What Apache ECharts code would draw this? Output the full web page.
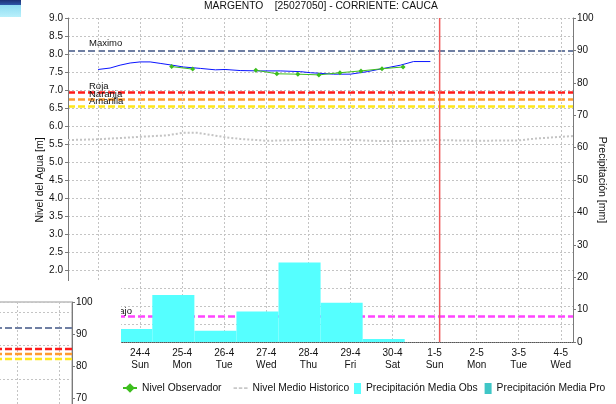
<!DOCTYPE html>
<html>
<head>
<meta charset="utf-8">
<style>
html,body{margin:0;padding:0;background:#fff;}
#c{width:616px;height:404px;}
</style>
<script src="https://cdn.jsdelivr.net/npm/echarts@6.0.0/dist/echarts.min.js"></script>
</head>
<body>
<div id="c"></div>
<script>
// ---- tick labels (x = days since 24-4 00:00) ----
const dayLabels = ['22-4','23-4','24-4','25-4','26-4','27-4','28-4','29-4','30-4','1-5','2-5','3-5','4-5'];
const weekDays  = ['Fri','Sat','Sun','Mon','Tue','Wed','Thu','Fri','Sat','Sun','Mon','Tue','Wed'];
const xMin = -1.714, xMax = 10.29;

// ---- blue level line ----
const blueTimes  = [-1.0,-0.714,-0.476,-0.238,0,0.238,0.476,0.762,1.024,1.43,1.79,2.02,2.38,2.86,3.33,3.81,4.05,4.6,5.0,5.4,5.79,6.19,6.5,6.9];
const blueLevels = [7.57,7.61,7.69,7.75,7.78,7.78,7.74,7.69,7.64,7.60,7.56,7.57,7.54,7.53,7.53,7.51,7.48,7.44,7.44,7.51,7.60,7.69,7.79,7.79];

// ---- Nivel Observador ----
const obsTimes  = [0.75,1.25,1.75,2.25,2.75,3.25,3.75,4.25,4.75,5.25,5.75,6.25];
const obsLevels = [7.65,7.58,null,null,7.55,7.45,7.44,7.42,7.48,7.53,7.59,7.64];

// ---- Nivel Medio Historico ----
const histTimes  = [-1.714,-1.0,0,0.64,1.02,1.36,2.02,2.38,3.02,3.81,4.76,5.79,6.31,7.02,8.02,9.0,9.4,10.0,10.29];
const histLevels = [5.61,5.63,5.70,5.74,5.81,5.81,5.69,5.64,5.59,5.61,5.62,5.58,5.58,5.61,5.59,5.60,5.65,5.70,5.72];

// ---- Precipitación Media Obs (daily, 07:00 -> 07:00) ----
const precipStart = [-0.71,0.29,1.29,2.29,3.29,4.29,5.29];
const precipEnd   = [0.29,1.29,2.29,3.29,4.29,5.29,6.29];
const precipObs   = [4.0,14.5,3.5,9.4,24.5,12.1,0.9];

// ---- threshold levels [m] ----
const levelNames  = ['Maximo','Roja','Naranja','Amarilla','Bajo'];
const levelValues = [8.10,6.95,6.75,6.55,0.72];
const levelColors = ['#6F7FA3','#FF1A1A','#FF9B2F','#FFE81A','#FF44FF'];
const nowTime = 7.12;

// ---- overlapped inset (other chart, right axis values) ----
const insetValues = [91.9,85.3,83.75,82.2];
const insetColors = ['#6F7FA3','#FF1A1A','#FF9B2F','#FFE81A'];
const insetXRange = [0, 2.31];

const FONT = "'Liberation Sans', Arial, sans-serif";
const gridLine = () => ({show:true, lineStyle:{color:'#c4c4c4', type:[2,2], width:1}});
const ZM = 1, ZI = 2; // zlevels: main chart, overlapped inset

function pairs(xs, ys){ return xs.map((x,i)=>[x, ys[i]]); }

const chart = echarts.init(document.getElementById('c'), null, {renderer:'canvas'});

const levelMarks = levelNames.map((n,i)=>({
  yAxis: levelValues[i],
  name: n,
  lineStyle:{color:levelColors[i], type:[7,3], width: i===0 ? 2 : 2.5},
  label:{show:true, formatter:n, position:'insideStartTop', color:'#111', fontSize:9.5, fontFamily:FONT,
         distance:[i===4 ? 45 : 21, i===0 ? 2 : 0]}
}));

const rectRender = color => (params, api) => {
  const p0 = api.coord([api.value(0), 0]);
  const p1 = api.coord([api.value(1), api.value(2)]);
  return {type:'rect', shape:{x:p0[0], y:p1[1], width:p1[0]-p0[0], height:p0[1]-p1[1]}, style:{fill:color}};
};

const dashIcon = 'path://M0,0h4v2h-4z M6,0h4v2h-4z M12,0h4v2h-4z';

const insetSeries = insetValues.map((v,i)=>({
  name:'inset'+i, type:'line', xAxisIndex:1, yAxisIndex:3, zlevel:ZI, z:4, silent:true,
  data:insetXRange.map(x=>[x, v]), symbol:'none', showSymbol:false,
  lineStyle:{color:insetColors[i], type:[7,3], width:i===0?2:2.5}
}));

const option = {
  animation:false,
  backgroundColor:'#fff',
  textStyle:{fontFamily:FONT},
  title:{text:'MARGENTO    [25027050] - CORRIENTE: CAUCA', left:204, top:1, padding:0,
         textStyle:{fontSize:10.3, fontWeight:'normal', color:'#111', fontFamily:FONT}},
  graphic:[
    {type:'rect', shape:{x:0,y:0,width:21,height:5}, style:{fill:new echarts.graphic.LinearGradient(0,0,0,1,[{offset:0,color:'#1d2f72'},{offset:1,color:'#2d56a8'}])}, silent:true},
    {type:'rect', shape:{x:0,y:5,width:21,height:12}, style:{fill:new echarts.graphic.LinearGradient(0,0,0,1,[{offset:0,color:'#8fdcf2'},{offset:1,color:'#b8f0fb'}])}, silent:true},
    {type:'rect', shape:{x:0,y:281,width:121,height:123}, style:{fill:'#fff'}, zlevel:ZI, z:0, silent:true}
  ],
  legend:[
    {data:['Nivel Observador',{name:'Nivel Medio Historico', icon:dashIcon, itemStyle:{color:'#c8c8c8'}}],
     left:122, top:383, padding:0, itemWidth:14, itemHeight:12, itemGap:12,
     textStyle:{fontSize:10.3, color:'#111', fontFamily:FONT}},
    {data:[{name:'Precipitación Media Obs', icon:'rect'},{name:'Precipitación Media Pro', icon:'rect'}],
     left:354, top:383, padding:0, itemWidth:7, itemHeight:11, itemGap:7, textStyle:{fontSize:10.3, color:'#111', fontFamily:FONT}}
  ],
  grid:[
    {left:68, right:43, top:18, bottom:62, outerBoundsMode:'none', zlevel:ZM},
    {left:-25, top:302, width:97, height:144, show:true, backgroundColor:'#fff', borderColor:'#999', borderWidth:1, zlevel:ZI, z:1, outerBoundsMode:'none'}
  ],
  xAxis:[
    {type:'value', gridIndex:0, min:xMin, max:xMax, minInterval:1, maxInterval:1, zlevel:ZM, z:1,
     axisLine:{show:true, onZero:false, lineStyle:{color:'#555', type:[1,1], width:1}},
     axisTick:{show:false},
     axisLabel:{fontSize:10, color:'#111', lineHeight:12, margin:5, fontFamily:FONT, showMinLabel:true, showMaxLabel:true,
       formatter:v=>{ const r=Math.round(v); if (Math.abs(v-r)>1e-6) return ''; const i=r+2; return (dayLabels[i]||'')+'\n'+(weekDays[i]||''); }},
     splitLine:gridLine()},
    {type:'value', gridIndex:1, min:insetXRange[0], max:insetXRange[1], interval:1, zlevel:ZI, z:2,
     axisLine:{show:false, onZero:false}, axisTick:{show:false}, axisLabel:{show:false}, splitLine:gridLine()}
  ],
  yAxis:[
    {type:'value', gridIndex:0, position:'left', min:0, max:9, interval:0.5, zlevel:ZM, z:1,
     name:'Nivel del Agua [m]', nameLocation:'middle', nameRotate:90, nameGap:22, nameMoveOverlap:false,
     nameTextStyle:{fontSize:10.5, color:'#111', fontFamily:FONT},
     axisLine:{show:true, onZero:false, lineStyle:{color:'#7a7a7a'}},
     axisTick:{show:true, inside:false, length:3, lineStyle:{color:'#7a7a7a'}},
     axisLabel:{fontSize:10, color:'#111', margin:5, formatter:v=>v.toFixed(1), fontFamily:FONT},
     splitLine:gridLine()},
    {type:'value', gridIndex:0, position:'right', min:0, max:100, interval:10, zlevel:ZM, z:1,
     name:'Precipitación [mm]', nameLocation:'middle', nameRotate:-90, nameGap:23, nameMoveOverlap:false,
     nameTextStyle:{fontSize:10.5, color:'#111', fontFamily:FONT},
     axisLine:{show:true, onZero:false, lineStyle:{color:'#7a7a7a'}},
     axisTick:{show:true, inside:false, length:3, lineStyle:{color:'#7a7a7a'}},
     axisLabel:{fontSize:10, color:'#111', margin:4, fontFamily:FONT},
     splitLine:{show:false}},
    {type:'value', gridIndex:1, position:'left', min:0, max:4.3, interval:1, zlevel:ZI, z:2,
     axisLine:{show:false, onZero:false}, axisTick:{show:false}, axisLabel:{show:false}, splitLine:gridLine()},
    {type:'value', gridIndex:1, position:'right', min:55, max:100, zlevel:ZI, z:3,
     axisLine:{show:true, onZero:false, lineStyle:{color:'#7a7a7a'}},
     axisTick:{show:true, inside:false, length:3, lineStyle:{color:'#7a7a7a'}},
     axisLabel:{fontSize:10, color:'#111', margin:4, fontFamily:FONT},
     splitLine:{show:false}}
  ],
  series:[
    {name:'Precipitación Media Obs', type:'custom', xAxisIndex:0, yAxisIndex:1, color:'#55FFFF',
     renderItem:rectRender('#55FFFF'),
     encode:{x:[0,1], y:2},
     data:precipStart.map((s,i)=>[s, precipEnd[i], precipObs[i]]), zlevel:ZM, z:2},
    {name:'Precipitación Media Pro', type:'custom', xAxisIndex:0, yAxisIndex:1, color:'#3FC6C6',
     renderItem:rectRender('#3FC6C6'), encode:{x:[0,1], y:2}, data:[], zlevel:ZM, z:2},
    {name:'Nivel Medio Historico', type:'line', xAxisIndex:0, yAxisIndex:0, data:pairs(histTimes, histLevels),
     showSymbol:false, symbol:'none', color:'#c4c4c4', lineStyle:{color:'#c4c4c4', width:2, type:[2,2]}, zlevel:ZM, z:3},
    {name:'Nivel Pronosticado', type:'line', xAxisIndex:0, yAxisIndex:0, data:pairs(blueTimes, blueLevels),
     showSymbol:false, symbol:'none', color:'#0A14FF', lineStyle:{color:'#0A14FF', width:1}, zlevel:ZM, z:4,
     markLine:{silent:true, symbol:'none', data:levelMarks}},
    {name:'Nivel Observador', type:'line', xAxisIndex:0, yAxisIndex:0, data:pairs(obsTimes, obsLevels),
     connectNulls:false, symbol:'diamond', symbolSize:5, showSymbol:true, color:'#3DBE1E',
     itemStyle:{color:'#3DBE1E'}, lineStyle:{color:'#3DBE1E', width:1}, zlevel:ZM, z:5},
    {name:'Ahora', type:'line', xAxisIndex:0, yAxisIndex:0, data:[[nowTime,0],[nowTime,9]], silent:true,
     symbol:'none', showSymbol:false, lineStyle:{color:'#EE5A5A', width:1.5, type:'solid'}, zlevel:ZM, z:6}
  ].concat(insetSeries)
};
chart.setOption(option);
</script>
</body>
</html>
